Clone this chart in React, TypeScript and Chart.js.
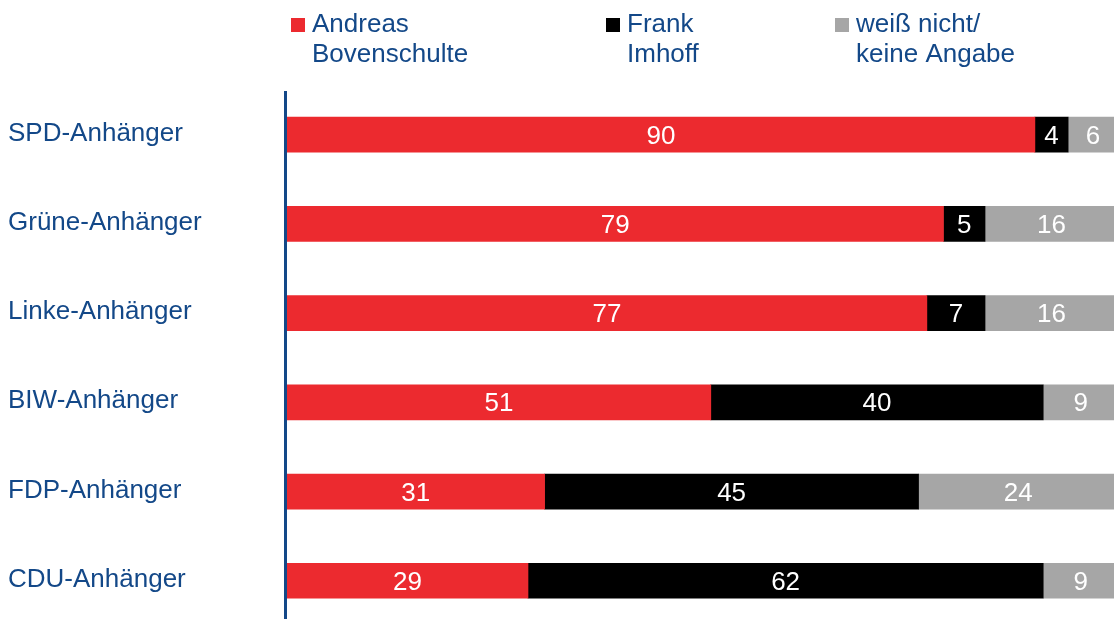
import React, { useEffect, useRef } from 'react';
import { Chart, registerables } from 'chart.js';

Chart.register(...registerables);

const categories = ['SPD-Anhänger', 'Grüne-Anhänger', 'Linke-Anhänger', 'BIW-Anhänger', 'FDP-Anhänger', 'CDU-Anhänger'];
const seriesNames = [['Andreas', 'Bovenschulte'], ['Frank', 'Imhoff'], ['weiß nicht/', 'keine Angabe']];
const bovenschulte = [90, 79, 77, 51, 31, 29];
const imhoff = [4, 5, 7, 40, 45, 62];
const weissNicht = [6, 16, 16, 9, 24, 9];

const colors = ['#ec2a2f', '#000000', '#a6a6a6'];
const textBlue = '#134888';
const FONT = "'Liberation Sans', Arial, sans-serif";

export default function App() {
  const ref = useRef<HTMLCanvasElement>(null);

  useEffect(() => {
    if (!ref.current) return;

    const legendPlugin = {
      id: 'customLegend',
      afterDraw(chart: any) {
        const ctx = chart.ctx;
        const xs = [291, 606, 835];
        ctx.save();
        ctx.font = `26px ${FONT}`;
        ctx.textAlign = 'left';
        ctx.textBaseline = 'alphabetic';
        chart.data.datasets.forEach((ds: any, i: number) => {
          ctx.fillStyle = ds.backgroundColor;
          ctx.fillRect(xs[i], 18, 14, 14);
          ctx.fillStyle = textBlue;
          seriesNames[i].forEach((line, j) => {
            ctx.fillText(line, xs[i] + 21, 32 + j * 30);
          });
        });
        ctx.restore();
      },
    };

    const axisLinePlugin = {
      id: 'axisLine',
      afterDatasetsDraw(chart: any) {
        const { ctx, chartArea } = chart;
        ctx.save();
        ctx.fillStyle = textBlue;
        ctx.fillRect(chartArea.left - 3, chartArea.top + 1, 3, chartArea.bottom - chartArea.top);
        ctx.restore();
      },
    };

    const valueLabelPlugin = {
      id: 'valueLabels',
      afterDatasetsDraw(chart: any) {
        const ctx = chart.ctx;
        ctx.save();
        ctx.font = `26px ${FONT}`;
        ctx.fillStyle = '#ffffff';
        ctx.textAlign = 'center';
        ctx.textBaseline = 'middle';
        chart.data.datasets.forEach((ds: any, i: number) => {
          const meta = chart.getDatasetMeta(i);
          meta.data.forEach((el: any, j: number) => {
            const p = el.getCenterPoint();
            ctx.fillText(String(ds.data[j]), p.x, p.y + 2);
          });
        });
        ctx.restore();
      },
    };

    const chart = new Chart(ref.current, {
      type: 'bar',
      data: {
        labels: categories,
        datasets: [
          { label: seriesNames[0].join(' '), data: bovenschulte, backgroundColor: colors[0] },
          { label: seriesNames[1].join(' '), data: imhoff, backgroundColor: colors[1] },
          { label: seriesNames[2].join(' '), data: weissNicht, backgroundColor: colors[2] },
        ],
      },
      options: {
        indexAxis: 'y',
        responsive: false,
        animation: false,
        layout: { padding: { left: 8, top: 90, right: 0, bottom: 0 } },
        datasets: { bar: { barThickness: 35, borderWidth: 0 } },
        plugins: {
          legend: { display: false },
          tooltip: { enabled: false },
        },
        scales: {
          x: { stacked: true, display: false, min: 0, max: 100 },
          y: {
            stacked: true,
            grid: { display: false },
            border: { display: false },
            ticks: {
              crossAlign: 'far',
              color: textBlue,
              font: { size: 26, family: FONT },
              padding: 0,
              labelOffset: -1,
            },
            afterFit(scale: any) {
              scale.width = 279;
            },
          },
        },
      },
      plugins: [axisLinePlugin, valueLabelPlugin, legendPlugin],
    } as any);

    return () => chart.destroy();
  }, []);

  return (
    <div style={{ position: 'fixed', left: 0, top: 0, width: 1114, height: 619, overflow: 'hidden', background: '#ffffff' }}>
      <canvas ref={ref} width={1118} height={641} style={{ display: 'block' }} />
    </div>
  );
}
